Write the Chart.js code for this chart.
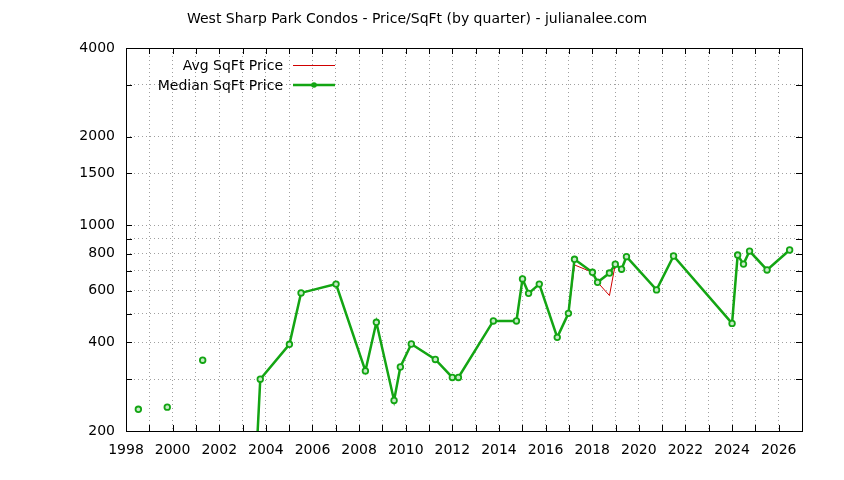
<!DOCTYPE html>
<html>
<head>
<meta charset="utf-8">
<script src="https://cdn.jsdelivr.net/npm/chart.js@4.4.1/dist/chart.umd.min.js"></script>
<style>
  html, body { margin: 0; padding: 0; background: #fff; }
  #wrap { width: 844px; height: 480px; position: relative; }
</style>
</head>
<body>
<div id="wrap"><canvas id="priceChart"></canvas></div>
<script>
// quarter positions (decimal year); null values break the line like gnuplot blanks
const quarters = [1998.53, 1999.15, 1999.77, 2000.5, 2001.29, 2002.4, 2003.5, 2003.76,
    2005.01, 2005.51, 2007.01, 2008.27, 2008.74, 2009.50, 2009.77, 2010.24, 2011.27,
    2012.0, 2012.26, 2013.76, 2014.75, 2015.01, 2015.27, 2015.73, 2016.50, 2016.98,
    2017.24, 2018.01, 2018.23, 2018.74, 2018.99, 2019.26, 2019.47, 2020.76, 2021.49,
    2024.0, 2024.24, 2024.49, 2024.75, 2025.50, 2026.47];
const medianPrice = [237, null, 241, null, 348, null, 117, 300,
    394, 589, 631, 320, 468, 254, 330, 395, 350,
    304, 304, 473, 473, 657, 587, 631, 416, 502,
    766, 692, 640, 688, 737, 709, 782, 603, 786,
    464, 792, 738, 817, 705, 824];
const avgPrice = [237, null, 241, null, 348, null, 117, 300,
    394, 589, 631, 320, 468, 254, 330, 395, 350,
    304, 304, 473, 473, 657, 587, 631, 416, 502,
    733, 692, 640, 577, 737, 709, 782, 603, 786,
    464, 792, 738, 817, 705, 824];

const yTicks = [200, 300, 400, 500, 600, 700, 800, 900, 1000, 1500, 2000, 3000, 4000];
const yLabels = [200, 400, 600, 800, 1000, 1500, 2000, 4000];
const xTicks = [];
for (let yr = 1998; yr <= 2027; yr++) xTicks.push(yr);

const chartTitle = 'West Sharp Park Condos - Price/SqFt (by quarter) - julianalee.com';
const seriesNames = ['Avg SqFt Price', 'Median SqFt Price'];

const GREEN = '#13a513';
const RED = '#d00000';
const FONT = '"DejaVu Sans", sans-serif';

function toPoints(values) {
    return quarters.map((q, i) => ({ x: q, y: values[i] }));
}

// gnuplot-ish frame, inward ticks, title and legend
const gnuplotDecor = {
    id: 'gnuplotDecor',
    afterDatasetsDraw(chart) {
        const { ctx, chartArea: a, scales } = chart;
        ctx.save();
        ctx.strokeStyle = '#000';
        ctx.lineWidth = 1;
        ctx.beginPath();
        yTicks.forEach(v => {
            const y = Math.round(scales.y.getPixelForValue(v)) + 0.5;
            ctx.moveTo(a.left, y); ctx.lineTo(a.left + 6, y);
            ctx.moveTo(a.right, y); ctx.lineTo(a.right - 6, y);
        });
        xTicks.forEach(v => {
            const x = Math.round(scales.x.getPixelForValue(v)) + 0.5;
            ctx.moveTo(x, a.bottom); ctx.lineTo(x, a.bottom - 6);
            ctx.moveTo(x, a.top); ctx.lineTo(x, a.top + 6);
        });
        ctx.stroke();
        ctx.strokeRect(Math.round(a.left) + 0.5, Math.round(a.top) + 0.5,
            Math.round(a.right - a.left), Math.round(a.bottom - a.top));

        ctx.fillStyle = '#000';
        ctx.font = '14px ' + FONT;
        ctx.textAlign = 'center';
        ctx.textBaseline = 'alphabetic';
        ctx.fillText(chartTitle, 417, 23);

        // legend
        ctx.textAlign = 'right';
        ctx.fillText(seriesNames[0], 283, 70);
        ctx.fillText(seriesNames[1], 283, 90);
        ctx.strokeStyle = RED;
        ctx.lineWidth = 1;
        ctx.beginPath(); ctx.moveTo(293, 65.5); ctx.lineTo(335, 65.5); ctx.stroke();
        ctx.strokeStyle = GREEN;
        ctx.lineWidth = 2.5;
        ctx.beginPath(); ctx.moveTo(293, 85); ctx.lineTo(335, 85); ctx.stroke();
        ctx.beginPath(); ctx.arc(314, 85, 2.8, 0, Math.PI * 2);
        ctx.fillStyle = GREEN; ctx.fill();
        ctx.restore();
    }
};

const ctx = document.getElementById('priceChart').getContext('2d');
new Chart(ctx, {
    type: 'line',
    data: {
        datasets: [
            {
                label: seriesNames[1],
                data: toPoints(medianPrice),
                borderColor: GREEN,
                borderWidth: 2.5,
                pointRadius: 2.8,
                pointBorderWidth: 1.8,
                pointBorderColor: GREEN,
                pointBackgroundColor: '#c8ecc8',
                tension: 0,
                spanGaps: false
            },
            {
                label: seriesNames[0],
                data: toPoints(avgPrice),
                borderColor: RED,
                borderWidth: 1,
                pointRadius: 0,
                tension: 0,
                spanGaps: false
            }
        ]
    },
    options: {
        responsive: true,
        maintainAspectRatio: false,
        animation: false,
        layout: {
            padding: { left: 0, right: 42, top: 48, bottom: 0 }
        },
        plugins: {
            legend: { display: false },
            title: { display: false },
            tooltip: { enabled: false }
        },
        scales: {
            x: {
                type: 'linear',
                min: 1998,
                max: 2027,
                afterBuildTicks: scale => { scale.ticks = xTicks.map(v => ({ value: v })); },
                afterFit: scale => { scale.height = 49; },
                grid: { color: '#a0a0a0', lineWidth: 1, drawTicks: false },
                border: { display: false, dash: [1, 3] },
                ticks: {
                    autoSkip: false,
                    maxRotation: 0,
                    padding: 11,
                    color: '#000',
                    font: { family: FONT, size: 14 },
                    callback: v => (v % 2 === 0 ? String(v) : '')
                }
            },
            y: {
                type: 'logarithmic',
                min: 200,
                max: 4000,
                afterBuildTicks: scale => { scale.ticks = yTicks.map(v => ({ value: v })); },
                afterFit: scale => { scale.width = 126; },
                grid: { color: '#a0a0a0', lineWidth: 1, drawTicks: false },
                border: { display: false, dash: [1, 3] },
                ticks: {
                    autoSkip: false,
                    padding: 11,
                    color: '#000',
                    font: { family: FONT, size: 14 },
                    callback: v => (yLabels.includes(v) ? String(v) : '')
                }
            }
        }
    },
    plugins: [gnuplotDecor]
});
</script>
</body>
</html>
